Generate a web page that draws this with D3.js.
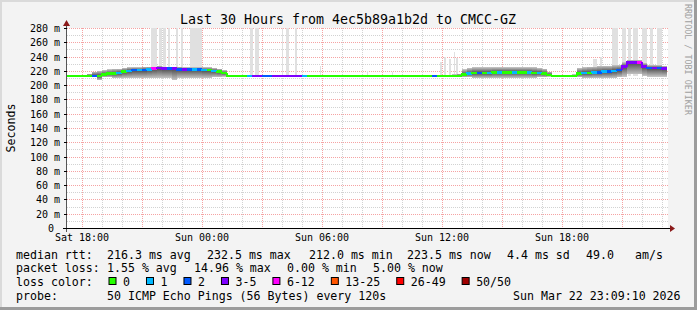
<!DOCTYPE html>
<html>
<head>
<meta charset="utf-8">
<script src="https://cdn.jsdelivr.net/npm/d3@7"></script>
<style>
  html, body { margin: 0; padding: 0; background: #f3f3f3; }
  svg { display: block; font-family: "DejaVu Sans Mono", monospace; }
</style>
</head>
<body>
<svg id="chart" width="697" height="310"></svg>
<script>
// ── Data (15 minute bins, starting Sat 17:15) ──
const startTime = new Date(2026, 2, 21, 17, 15);
const binMinutes = 15;

const medianRtt = [
  213, 213, 213, 213, 213, 213, 213, 215, 216, 216, 217, 219, 220, 221, 221, 221,
  222, 223, 224, 223, 223, 223, 222, 222, 222, 222, 222, 221, 221, 220, 219, 217,
  213, 213, 213, 213, 213, 213, 213, 213, 213, 213, 213, 213, 213, 213, 213, 213,
  213, 213, 213, 213, 213, 213, 213, 213, 213, 213, 213, 213, 213, 213, 213, 213,
  213, 213, 213, 213, 213, 213, 213, 213, 213, 213, 213, 213, 213, 213, 213, 215,
  216, 217, 217, 217, 217, 218, 218, 218, 218, 218, 218, 218, 218, 217, 217, 216,
  214, 213, 213, 213, 213, 213, 216, 217, 217, 218, 218, 219, 219, 220, 221, 226,
  232, 232, 232, 226, 224, 224, 224, 223
];

const smokeLo = [
  213, 213, 213, 212, 212, 211, 207, 211, 211, 210, 210, 210, 210, 210, 210, 210,
  210, 210, 210, 210, 210, 207, 210, 210, 210, 210, 210, 210, 210, 211, 211, 212,
  213, 213, 213, 213, 213, 213, 213, 213, 213, 213, 213, 213, 213, 213, 213, 213,
  213, 213, 213, 213, 213, 213, 213, 213, 213, 213, 213, 213, 213, 213, 213, 213,
  213, 213, 213, 213, 213, 213, 213, 213, 213, 213, 213, 213, 213, 213, 213, 211,
  211, 210, 210, 210, 210, 210, 210, 210, 210, 210, 210, 210, 210, 210, 211, 211,
  212, 213, 213, 213, 213, 213, 211, 210, 210, 210, 210, 210, 210, 210, 211, 212,
  215, 215, 215, 213, 212, 212, 212, 212
];

const smokeHi = [
  213, 213, 213, 214, 216, 219, 220, 221, 222, 223, 223, 224, 225, 225, 225, 226,
  226, 226, 227, 226, 226, 226, 226, 225, 225, 225, 225, 225, 225, 224, 223, 221,
  213, 213, 213, 213, 213, 213, 213, 213, 213, 213, 213, 213, 213, 213, 213, 213,
  213, 213, 213, 213, 213, 213, 213, 213, 213, 213, 213, 213, 213, 213, 213, 213,
  213, 213, 213, 213, 213, 213, 213, 213, 213, 213, 213, 213, 213, 215, 216, 222,
  224, 225, 225, 225, 225, 225, 225, 225, 225, 225, 225, 225, 225, 225, 224, 223,
  219, 214, 214, 214, 214, 215, 224, 225, 226, 226, 227, 227, 227, 228, 228, 232,
  235, 235, 235, 231, 228, 228, 228, 227
];

const lossCount = [
  0, 0, 0, 0, 0, 2, 0, 0, 0, 0, 1, 0, 1, 2, 1, 2,
  1, 6, 3, 4, 2, 3, 2, 3, 2, 1, 2, 1, 0, 1, 0, 0,
  0, 0, 0, 0, 1, 3, 3, 2, 2, 3, 3, 3, 3, 3, 3, 1,
  0, 0, 0, 0, 0, 0, 0, 0, 0, 0, 0, 0, 0, 0, 0, 0,
  0, 0, 0, 0, 0, 0, 0, 0, 0, 2, 0, 0, 0, 0, 0, 0,
  1, 0, 2, 0, 1, 0, 1, 0, 0, 1, 0, 0, 1, 0, 1, 0,
  0, 0, 0, 0, 0, 0, 0, 1, 0, 1, 2, 1, 2, 1, 2, 3,
  3, 4, 6, 3, 2, 3, 2, 3
];

// max-ping spikes (hours after start)
const spikeFrom = [4.2, 4.6, 4.8, 5.05, 5.45, 5.7, 6.15, 9.15, 9.4, 10.75, 10.95, 11.4,
  12.65, 15.0, 16.25, 18.65, 18.85, 19.1, 19.35, 19.45, 26.3, 26.65,
  27.25, 27.75, 28.05, 28.3, 28.75, 29.15, 29.5];
const spikeTo = [4.5, 4.75, 4.95, 5.15, 5.55, 5.8, 6.75, 9.3, 9.6, 10.8, 11.1, 11.5,
  12.7, 15.05, 16.3, 18.75, 18.95, 19.2, 19.4, 19.55, 26.5, 26.75,
  27.55, 27.95, 28.2, 28.55, 29.0, 29.3, 29.75];
const spikeMax = [300, 300, 300, 300, 300, 300, 300, 300, 300, 300, 300, 300,
  227, 220, 219, 232, 240, 236, 246, 238, 236, 240,
  300, 300, 300, 300, 300, 300, 300];

const yTicks = [0, 20, 40, 60, 80, 100, 120, 140, 160, 180, 200, 220, 240, 260, 280];

const lossLabels = ['0', '1', '2', '3-5', '6-12', '13-25', '26-49', '50/50'];
const lossMin    = [0, 1, 2, 3, 6, 13, 26, 50];
const lossColors = ['#26ff00', '#00b8ff', '#0059ff', '#7e00ff', '#ff00ff', '#ff5500', '#ff0000', '#a00000'];

const rttStats  = ['216.3 ms avg', '232.5 ms max', '212.0 ms min', '223.5 ms now', '4.4 ms sd', '49.0', 'am/s'];
const lossStats = ['1.55 % avg', '14.96 % max', '0.00 % min', '5.00 % now'];
const probeText = '50 ICMP Echo Pings (56 Bytes) every 120s';
const stampText = 'Sun Mar 22 23:09:10 2026';

// ── Layout ──
const W = 697, H = 310;
const plot = { left: 67, right: 667, top: 28, bottom: 228 };

const svg = d3.select('#chart');
const endTime = d3.timeHour.offset(startTime, 30);
const binTime = i => d3.timeMinute.offset(startTime, i * binMinutes);
const hourTime = h => new Date(startTime.getTime() + h * 3600000);

const x = d3.scaleTime().domain([startTime, endTime]).range([plot.left, plot.right]);
const y = d3.scaleLinear().domain([0, 280]).range([plot.bottom, plot.top]);

const lossColor = n => {
  let c = lossColors[0];
  lossMin.forEach((m, k) => { if (n >= m) c = lossColors[k]; });
  return c;
};

// background + shade frame
svg.append('rect').attr('width', W).attr('height', H).attr('fill', '#f3f3f3');
svg.append('rect').attr('x', 0).attr('y', 0).attr('width', W).attr('height', 2).attr('fill', '#dadada');
svg.append('rect').attr('x', 0).attr('y', 0).attr('width', 2).attr('height', H).attr('fill', '#dadada');
svg.append('rect').attr('x', W - 3).attr('y', 0).attr('width', 3).attr('height', H).attr('fill', '#9c9c9c');
svg.append('rect').attr('x', 0).attr('y', H - 3).attr('width', W).attr('height', 3).attr('fill', '#9c9c9c');

// canvas
svg.append('rect')
  .attr('x', plot.left).attr('y', plot.top)
  .attr('width', plot.right - plot.left + 1).attr('height', plot.bottom - plot.top)
  .attr('fill', '#ffffff');

const defs = svg.append('defs');
defs.append('clipPath').attr('id', 'clip')
  .append('rect')
  .attr('x', plot.left).attr('y', plot.top)
  .attr('width', plot.right - plot.left).attr('height', plot.bottom - plot.top);

const gUp = defs.append('linearGradient').attr('id', 'smokeUp')
  .attr('x1', 0).attr('y1', 0).attr('x2', 0).attr('y2', 1);
gUp.append('stop').attr('offset', '0%').attr('stop-color', '#c4c4c4');
gUp.append('stop').attr('offset', '100%').attr('stop-color', '#4a4a4a');
const gDown = defs.append('linearGradient').attr('id', 'smokeDown')
  .attr('x1', 0).attr('y1', 0).attr('x2', 0).attr('y2', 1);
gDown.append('stop').attr('offset', '0%').attr('stop-color', '#4a4a4a');
gDown.append('stop').attr('offset', '100%').attr('stop-color', '#c4c4c4');

// ── Grid ──
const grid = svg.append('g').attr('shape-rendering', 'crispEdges');
d3.range(10, 290, 10).forEach(v => {
  grid.append('line')
    .attr('x1', plot.left).attr('x2', plot.right + 1)
    .attr('y1', Math.round(y(v)) + 0.5).attr('y2', Math.round(y(v)) + 0.5)
    .attr('stroke', v % 20 === 0 ? '#f5a3a3' : '#d2d2d2')
    .attr('stroke-dasharray', '1,1');
});
d3.timeHour.every(1).range(startTime, endTime).forEach(t => {
  const xx = Math.round(x(t)) + 0.5;
  grid.append('line')
    .attr('x1', xx).attr('x2', xx)
    .attr('y1', plot.top).attr('y2', plot.bottom)
    .attr('stroke', t.getHours() % 3 === 0 ? '#f5a3a3' : '#d2d2d2')
    .attr('stroke-dasharray', '1,1');
});

// ── Smoke & spikes ──
const marks = svg.append('g').attr('clip-path', 'url(#clip)').attr('shape-rendering', 'crispEdges');

marks.selectAll('.spike')
  .data(spikeFrom).enter().append('rect')
  .attr('class', 'spike')
  .attr('x', (d, i) => x(hourTime(d)))
  .attr('width', (d, i) => Math.max(1, x(hourTime(spikeTo[i])) - x(hourTime(d))))
  .attr('y', (d, i) => y(spikeMax[i]))
  .attr('height', (d, i) => y(213) - y(spikeMax[i]))
  .attr('fill', '#e0e0e0');

marks.selectAll('.smoke-up')
  .data(medianRtt).enter().append('rect')
  .attr('class', 'smoke-up')
  .attr('x', (d, i) => x(binTime(i)))
  .attr('width', (d, i) => x(binTime(i + 1)) - x(binTime(i)))
  .attr('y', (d, i) => y(smokeHi[i]))
  .attr('height', (d, i) => Math.max(0, y(d) - y(smokeHi[i])))
  .attr('fill', 'url(#smokeUp)');

marks.selectAll('.smoke-down')
  .data(medianRtt).enter().append('rect')
  .attr('class', 'smoke-down')
  .attr('x', (d, i) => x(binTime(i)))
  .attr('width', (d, i) => x(binTime(i + 1)) - x(binTime(i)))
  .attr('y', d => y(d))
  .attr('height', (d, i) => Math.max(0, y(smokeLo[i]) - y(d)))
  .attr('fill', 'url(#smokeDown)');

// ── Median line coloured by loss ──
marks.selectAll('.median')
  .data(medianRtt).enter().append('path')
  .attr('class', 'median')
  .attr('fill', 'none')
  .attr('stroke-width', 2.5)
  .attr('stroke', (d, i) => lossColor(lossCount[i]))
  .attr('d', (d, i) => {
    const prev = i > 0 ? medianRtt[i - 1] : d;
    const x0 = x(binTime(i)), x1 = x(binTime(i + 1));
    return `M${x0},${y(prev)}L${x0},${y(d)}L${x1},${y(d)}`;
  });

// ── Axes ──
const axis = svg.append('g').attr('shape-rendering', 'crispEdges');
axis.append('line')
  .attr('x1', plot.left - 4).attr('x2', plot.right + 4)
  .attr('y1', plot.bottom + 0.5).attr('y2', plot.bottom + 0.5)
  .attr('stroke', '#000');
axis.append('line')
  .attr('x1', plot.left - 0.5).attr('x2', plot.left - 0.5)
  .attr('y1', plot.bottom + 4).attr('y2', plot.top - 4)
  .attr('stroke', '#555');
svg.append('path')
  .attr('d', `M${plot.right + 3},${plot.bottom - 3}L${plot.right + 8},${plot.bottom + 0.5}L${plot.right + 3},${plot.bottom + 4}Z`)
  .attr('fill', '#8b1a1a');
svg.append('path')
  .attr('d', `M${plot.left - 4},${plot.top - 2}L${plot.left - 0.5},${plot.top - 8}L${plot.left + 3},${plot.top - 2}Z`)
  .attr('fill', '#8b1a1a');

yTicks.forEach(v => {
  axis.append('line')
    .attr('x1', plot.left - 3).attr('x2', plot.left)
    .attr('y1', Math.round(y(v)) + 0.5).attr('y2', Math.round(y(v)) + 0.5)
    .attr('stroke', '#000');
});
svg.append('g').selectAll('text')
  .data(yTicks).enter().append('text')
  .attr('x', d => d === 0 ? 54 : 60)
  .attr('y', d => y(d) + 4)
  .attr('text-anchor', 'end')
  .style('font-size', '10px')
  .attr('fill', '#000')
  .text(d => d === 0 ? '0' : d + ' m');

const xLabelTicks = d3.timeHour.every(1).range(startTime, endTime).filter(t => t.getHours() % 6 === 0);
svg.append('g').selectAll('text')
  .data(xLabelTicks).enter().append('text')
  .attr('x', d => x(d))
  .attr('y', 241)
  .attr('text-anchor', 'middle')
  .style('font-size', '10px')
  .attr('fill', '#000')
  .text(d3.timeFormat('%a %H:%M'));

// ── Titles ──
svg.append('text')
  .attr('x', 348).attr('y', 24)
  .attr('text-anchor', 'middle')
  .style('font-size', '13.3px')
  .text('Last 30 Hours from 4ec5b89a1b2d to CMCC-GZ');

svg.append('text')
  .attr('transform', 'translate(15,128) rotate(-90)')
  .attr('text-anchor', 'middle')
  .style('font-size', '11.6px')
  .text('Seconds');

svg.append('text')
  .attr('transform', 'translate(685,4) rotate(90)')
  .style('font-size', '8.4px')
  .attr('fill', '#a0a0a0')
  .text('RRDTOOL / TOBI OETIKER');

// ── Legend ──
const legend = svg.append('g').style('font-size', '11.6px').attr('fill', '#000');
const rows = [258.5, 272.2, 286, 299.7];

legend.append('text').attr('x', 16).attr('y', rows[0]).text('median rtt:');
[107, 207, 309, 407, 507, 586, 635].forEach((px, k) => {
  legend.append('text').attr('x', px).attr('y', rows[0]).text(rttStats[k]);
});

legend.append('text').attr('x', 16).attr('y', rows[1]).text('packet loss:');
[107, 194, 287, 373].forEach((px, k) => {
  legend.append('text').attr('x', px).attr('y', rows[1]).text(lossStats[k]);
});

legend.append('text').attr('x', 16).attr('y', rows[2]).text('loss color:');
let bx = 108.5;
lossLabels.forEach((lab, k) => {
  legend.append('rect')
    .attr('x', bx + 0.5).attr('y', rows[2] - 8.5)
    .attr('width', 7).attr('height', 7)
    .attr('fill', lossColors[k]).attr('stroke', '#000');
  const t = legend.append('text').attr('x', bx + 14.5).attr('y', rows[2]).text(lab);
  bx = bx + 14.5 + t.node().getComputedTextLength() + 16;
});

legend.append('text').attr('x', 16).attr('y', rows[3]).text('probe:');
legend.append('text').attr('x', 107).attr('y', rows[3]).text(probeText);
legend.append('text').attr('x', 513).attr('y', rows[3]).text(stampText);
</script>
</body>
</html>
